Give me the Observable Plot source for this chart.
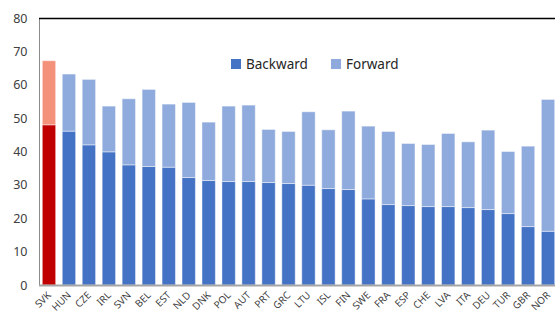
<!DOCTYPE html>
<html><head><meta charset="utf-8">
<script src="https://cdn.jsdelivr.net/npm/d3@7"></script>
<script src="https://cdn.jsdelivr.net/npm/@observablehq/plot@0.6"></script>
<style>
body{margin:0;background:#fff;font-family:"Noto Sans",sans-serif;}
#wrap{position:relative;width:555px;height:314px;overflow:hidden;}
.leg{position:absolute;top:56px;display:flex;align-items:center;font-size:13.5px;color:#262626;line-height:16px;white-space:nowrap;}
.sw{width:10px;height:10px;margin-right:5px;flex:none;}
</style></head><body><div id="wrap"></div>
<script>
const countries = ["SVK","HUN","CZE","IRL","SVN","BEL","EST","NLD","DNK","POL","AUT","PRT","GRC","LTU","ISL","FIN","SWE","FRA","ESP","CHE","LVA","ITA","DEU","TUR","GBR","NOR"];
const backward = [48.0,46.1,42.0,39.9,36.0,35.5,35.3,32.2,31.3,31.0,31.0,30.7,30.4,29.9,28.9,28.6,25.8,24.1,23.8,23.5,23.5,23.2,22.6,21.4,17.5,16.1];
const forward  = [19.2,17.1,19.6,13.7,19.8,23.1,18.9,22.5,17.5,22.6,22.9,15.9,15.6,22.0,17.6,23.5,21.8,21.9,18.6,18.6,21.9,19.7,23.8,18.6,24.1,39.5];
const series = ["Backward","Forward"];
const seriesColors = ["#4472C4","#8FAADC"];
const highlight = "SVK";
const highlightColors = ["#C00000","#F4917B"];
const yTicks = [0,10,20,30,40,50,60,70,80];

const rows = [];
countries.forEach((c,i)=>{
  const pal = c===highlight ? highlightColors : seriesColors;
  rows.push({country:c, part:series[0], value:backward[i], color:pal[0]});
  rows.push({country:c, part:series[1], value:forward[i], color:pal[1]});
});

const chart = Plot.plot({
  width:555, height:314, marginLeft:39, marginRight:-3, marginTop:18, marginBottom:29,
  style:{fontFamily:"Noto Sans", fontSize:"12px", color:"#404040", background:"white", overflow:"visible"},
  x:{domain:countries, paddingInner:0.33, paddingOuter:0.165, round:false, label:null},
  y:{domain:[0,80], label:null},
  color:{type:"identity"},
  marks:[
    Plot.barY(rows, {x:"country", y:"value", fill:"color", stroke:"white", strokeOpacity:0.45, strokeWidth:1}),
    Plot.frame({stroke:"#8c8c8c"}),
    Plot.ruleY([80], {stroke:"black", strokeWidth:1.5}),
    Plot.ruleY([0], {stroke:"#a6a6a6", strokeWidth:2}),
    Plot.axisY({ticks:yTicks, tickSize:0, tickPadding:12, fontSize:12.5, label:null}),
    Plot.axisX({tickSize:0, tickPadding:8, tickRotate:-45, fontSize:10, label:null})
  ]
});
const wrap = document.getElementById("wrap");
wrap.appendChild(chart);

const legendLeft = [231, 331];
series.forEach((s,i)=>{
  const d = document.createElement("div");
  d.className = "leg";
  d.style.left = legendLeft[i] + "px";
  const sw = document.createElement("span");
  sw.className = "sw";
  sw.style.background = seriesColors[i];
  const t = document.createElement("span");
  t.textContent = s;
  d.appendChild(sw); d.appendChild(t);
  wrap.appendChild(d);
});
</script></body></html>
